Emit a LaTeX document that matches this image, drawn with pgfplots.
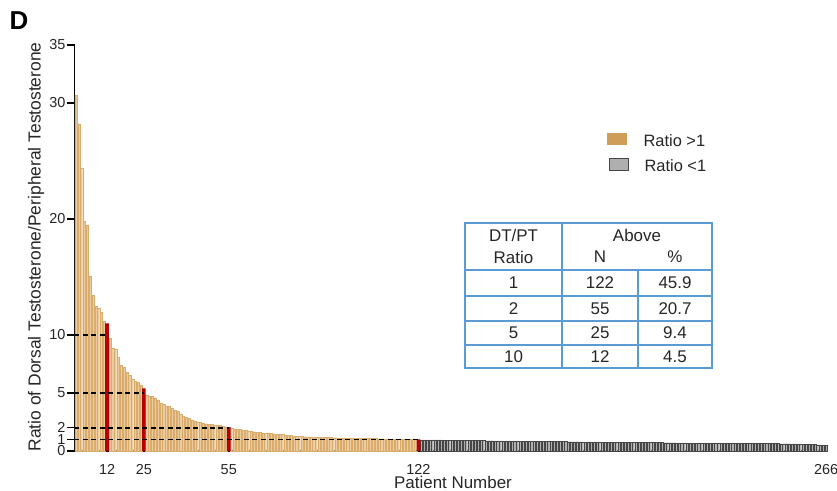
\documentclass[border=0pt]{standalone}
\usepackage{pgfplots}
\pgfplotsset{compat=1.18}
\usepackage{fontspec}
\setmainfont{Liberation Sans}

\definecolor{tanfill}{RGB}{234,204,160}
\definecolor{tanedge}{RGB}{218,172,108}
\definecolor{tanleg}{RGB}{206,158,88}
\definecolor{greyfill}{RGB}{175,175,175}
\definecolor{greyedge}{RGB}{70,70,70}
\definecolor{redbar}{RGB}{185,0,0}
\definecolor{tblue}{RGB}{91,155,213}

\begin{document}
\begin{tikzpicture}
\path[use as bounding box] (0,0) rectangle (837bp,-491bp);

\begin{axis}[
    at={(74.5bp,-451bp)}, anchor=south west,
    scale only axis,
    width=753bp, height=406bp,
    xmin=0.5, xmax=266.5,
    ymin=0, ymax=35,
    axis x line=bottom, axis y line=left,
    axis line style={-, line width=1.6pt, black},
    xtick={12,25,55,122,266},
    xtick style={draw=none},
    ytick={0,1,2,5,10,20,30,35},
    ytick style={line width=1.2pt, black},
    tick align=outside,
    major tick length=7bp,
    tick label style={font=\fontsize{14.5}{15}\selectfont, text=black!85},
    xticklabel style={yshift=-3bp},
    yticklabel style={xshift=1.5bp, inner ysep=0pt},
    /pgf/number format/assume math mode=true,
    clip=false,
]
% ratio > 1
\addplot[ybar, bar width=0.78, bar shift=0pt, fill=tanfill, draw=tanedge, line width=0.25pt]
coordinates {
(1,30.7)(2,28.2)(3,24.4)(4,19.8)(5,19.5)(6,15.1)(7,13.4)(8,12.5)(9,12.3)(10,12.0)(11,11.2)
(13,9.7)(14,8.9)(15,8.8)(16,8.1)(17,7.4)(18,7.2)(19,6.8)(20,6.5)(21,6.2)(22,6.0)(23,5.9)(24,5.7)
(26,4.8)(27,4.7)(28,4.7)(29,4.6)(30,4.4)(31,4.1)(32,4.0)(33,3.9)(34,3.9)(35,3.7)(36,3.5)(37,3.4)
(38,3.2)(39,3.0)(40,2.9)(41,2.8)(42,2.7)(43,2.6)(44,2.5)(45,2.45)(46,2.4)(47,2.35)(48,2.3)
(49,2.3)(50,2.25)(51,2.2)(52,2.2)(53,2.15)(54,2.1)
(56,1.95)(57,1.9)(58,1.9)(59,1.85)(60,1.8)(61,1.78)(62,1.75)(63,1.7)(64,1.66)(65,1.62)
(66,1.6)(67,1.57)(68,1.55)(69,1.53)(70,1.5)(71,1.49)(72,1.47)(73,1.45)(74,1.42)(75,1.4)
(76,1.37)(77,1.34)(78,1.31)(79,1.28)(80,1.25)(81,1.24)(82,1.23)(83,1.22)(84,1.21)(85,1.2)
(86,1.2)(87,1.19)(88,1.18)(89,1.18)(90,1.17)(91,1.16)(92,1.15)(93,1.15)(94,1.14)(95,1.13)
(96,1.13)(97,1.12)(98,1.11)(99,1.11)(100,1.1)(101,1.1)(102,1.09)(103,1.09)(104,1.08)(105,1.08)
(106,1.07)(107,1.07)(108,1.06)(109,1.06)(110,1.05)(111,1.05)(112,1.05)(113,1.04)(114,1.04)
(115,1.04)(116,1.03)(117,1.03)(118,1.03)(119,1.02)(120,1.02)(121,1.02)
};
% ratio < 1
\addplot[ybar, bar width=0.78, bar shift=0pt, fill=greyfill, draw=greyedge, line width=0.25pt]
coordinates {
(123,0.97)(124,0.97)(125,0.96)(126,0.96)(127,0.96)(128,0.95)(129,0.95)(130,0.95)(131,0.94)
(132,0.94)(133,0.94)(134,0.93)(135,0.93)(136,0.93)(137,0.92)(138,0.92)(139,0.92)(140,0.91)
(141,0.91)(142,0.91)(143,0.90)(144,0.90)(145,0.90)(146,0.89)(147,0.89)(148,0.89)(149,0.88)
(150,0.88)(151,0.88)(152,0.87)(153,0.87)(154,0.87)(155,0.86)(156,0.86)(157,0.86)(158,0.85)
(159,0.85)(160,0.85)(161,0.84)(162,0.84)(163,0.84)(164,0.83)(165,0.83)(166,0.83)(167,0.82)
(168,0.82)(169,0.82)(170,0.82)(171,0.81)(172,0.81)(173,0.81)(174,0.81)(175,0.80)(176,0.80)
(177,0.80)(178,0.80)(179,0.79)(180,0.79)(181,0.79)(182,0.79)(183,0.78)(184,0.78)(185,0.78)
(186,0.78)(187,0.77)(188,0.77)(189,0.77)(190,0.77)(191,0.76)(192,0.76)(193,0.76)(194,0.76)
(195,0.76)(196,0.75)(197,0.75)(198,0.75)(199,0.75)(200,0.74)(201,0.74)(202,0.74)(203,0.74)
(204,0.74)(205,0.73)(206,0.73)(207,0.73)(208,0.73)(209,0.72)(210,0.72)(211,0.72)(212,0.72)
(213,0.72)(214,0.71)(215,0.71)(216,0.71)(217,0.71)(218,0.70)(219,0.70)(220,0.70)(221,0.70)
(222,0.70)(223,0.69)(224,0.69)(225,0.69)(226,0.69)(227,0.68)(228,0.68)(229,0.68)(230,0.68)
(231,0.68)(232,0.67)(233,0.67)(234,0.67)(235,0.67)(236,0.66)(237,0.66)(238,0.66)(239,0.66)
(240,0.66)(241,0.65)(242,0.65)(243,0.65)(244,0.65)(245,0.64)(246,0.64)(247,0.64)(248,0.64)
(249,0.64)(250,0.63)(251,0.63)(252,0.63)(253,0.63)(254,0.62)(255,0.62)(256,0.62)(257,0.62)
(258,0.62)(259,0.61)(260,0.61)(261,0.58)(262,0.56)(263,0.54)(264,0.52)(265,0.50)(266,0.47)
};
% thresholds
\addplot[ybar, bar width=1.3, bar shift=0pt, fill=redbar, draw=none]
coordinates {(12,11.0)(25,5.4)(55,2.05)(122,1.01)};
\addplot[black, line width=1.8pt, dash pattern=on 5pt off 3.5pt] coordinates {(0.5,10)(12,10)};
\addplot[black, line width=1.8pt, dash pattern=on 5pt off 3.5pt] coordinates {(0.5,5)(25,5)};
\addplot[black, line width=1.8pt, dash pattern=on 5pt off 3.5pt] coordinates {(0.5,2)(55,2)};
\addplot[black, line width=1.8pt, dash pattern=on 5pt off 3.5pt] coordinates {(0.5,1)(122,1)};
\end{axis}

% panel letter and axis titles
\node[font=\fontsize{26}{28}\selectfont\bfseries] at (19bp,-21bp) {D};
\node[rotate=90, font=\fontsize{17.5}{19}\selectfont, text=black!85] at (36bp,-247bp)
  {Ratio of Dorsal Testosterone/Peripheral Testosterone};
\node[anchor=base, font=\fontsize{17}{18}\selectfont, text=black!85, inner sep=0pt] at (453bp,-488bp) {Patient Number};

% legend
\fill[tanleg] (607bp,-133bp) rectangle (627bp,-145bp);
\node[anchor=base west, font=\fontsize{16.5}{18}\selectfont, text=black!85] at (640bp,-146bp) {Ratio >1};
\draw[fill=greyfill, draw=greyedge, line width=0.8pt] (609bp,-158bp) rectangle (628bp,-170bp);
\node[anchor=base west, font=\fontsize{16.5}{18}\selectfont, text=black!85] at (641bp,-171bp) {Ratio <1};

% summary table
\begin{scope}[tblue, line width=1.6pt]
\draw (465bp,-223bp) rectangle (712bp,-368bp);
\draw (562bp,-223bp) -- (562bp,-368bp);
\draw (638bp,-270bp) -- (638bp,-368bp);
\foreach \yy in {270,296,321,345} \draw (465bp,-\yy bp) -- (712bp,-\yy bp);
\end{scope}
\begin{scope}[every node/.style={font=\fontsize{17}{18}\selectfont, text=black!85}]
\node at (513.5bp,-235bp) {DT/PT};
\node at (513.5bp,-257bp) {Ratio};
\node at (637bp,-235bp) {Above};
\node at (600bp,-257bp) {N};
\node at (675bp,-257bp) {\%};
\node at (513.5bp,-283bp) {1};   \node at (600bp,-283bp) {122}; \node at (675bp,-283bp) {45.9};
\node at (513.5bp,-308.5bp) {2}; \node at (600bp,-308.5bp) {55}; \node at (675bp,-308.5bp) {20.7};
\node at (513.5bp,-333bp) {5};   \node at (600bp,-333bp) {25};  \node at (675bp,-333bp) {9.4};
\node at (513.5bp,-356.5bp) {10};\node at (600bp,-356.5bp) {12}; \node at (675bp,-356.5bp) {4.5};
\end{scope}
\end{tikzpicture}
\end{document}
